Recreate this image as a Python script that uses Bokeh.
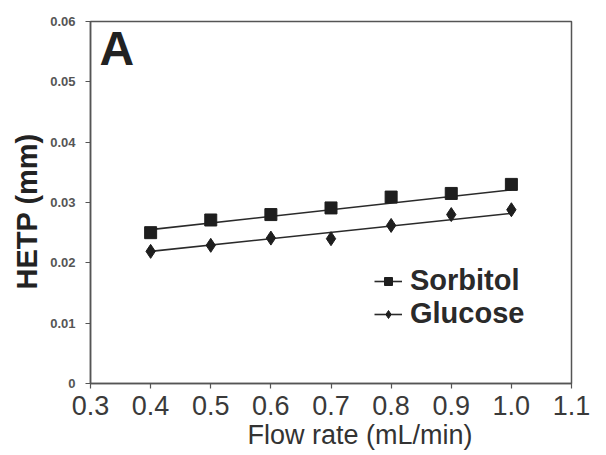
from bokeh.plotting import figure
from bokeh.models import Range1d, FixedTicker, Legend, LegendItem, Label, Title
from bokeh.embed import file_html
from bokeh.resources import INLINE

# ---- data ----
flow_rate = [0.4, 0.5, 0.6, 0.7, 0.8, 0.9, 1.0]
sorbitol = [0.0250, 0.0271, 0.0280, 0.0291, 0.0309, 0.0315, 0.0330]
glucose = [0.0219, 0.0229, 0.0241, 0.0240, 0.0262, 0.0280, 0.0288]
# trend lines as drawn in the reference (end points)
fit_x = [0.4, 1.0]
sorbitol_fit = [0.0255, 0.0321]
glucose_fit = [0.0219, 0.0282]

x_ticks = [0.3, 0.4, 0.5, 0.6, 0.7, 0.8, 0.9, 1.0, 1.1]
x_tick_labels = ["0.3", "0.4", "0.5", "0.6", "0.7", "0.8", "0.9", "1.0", "1.1"]
y_ticks = [0.0, 0.01, 0.02, 0.03, 0.04, 0.05, 0.06]
y_tick_labels = ["0", "0.01", "0.02", "0.03", "0.04", "0.05", "0.06"]
x_title = "Flow rate (mL/min)"
y_title = "HETP (mm)"
panel_tag = "A"

FONT = "Liberation Sans"
AX = "#555555"

p = figure(frame_width=481, frame_height=362, output_backend="svg",
           toolbar_location=None,
           x_range=Range1d(0.3, 1.1), y_range=Range1d(0.0, 0.06),
           min_border_left=90, min_border_right=25, min_border_top=21,
           min_border_bottom=60)
p.background_fill_color = "white"
p.border_fill_color = "white"
p.outline_line_color = AX
p.outline_line_width = 1.5
p.grid.visible = False

# axes
xa = p.xaxis[0]
xa.ticker = FixedTicker(ticks=x_ticks, minor_ticks=[])
xa.major_label_overrides = {t: l for t, l in zip(x_ticks, x_tick_labels)}
xa.major_label_text_font = FONT
xa.major_label_text_font_size = "27px"
xa.major_label_text_color = "#3a3a3a"
xa.major_label_standoff = 7
xa.major_tick_out = 5
xa.major_tick_in = 0
xa.minor_tick_out = 0
xa.minor_tick_in = 0
xa.axis_line_color = AX
xa.axis_line_width = 1.5
xa.major_tick_line_color = AX
xa.major_tick_line_width = 1.2

ya = p.yaxis[0]
ya.ticker = FixedTicker(ticks=y_ticks, minor_ticks=[])
ya.major_label_overrides = {t: l for t, l in zip(y_ticks, y_tick_labels)}
ya.major_label_text_font = FONT
ya.major_label_text_font_size = "13px"
ya.major_label_text_font_style = "bold"
ya.major_label_text_color = "#555555"
ya.major_label_standoff = 10
ya.major_tick_out = 5
ya.major_tick_in = 0
ya.minor_tick_out = 0
ya.minor_tick_in = 0
ya.axis_line_color = AX
ya.axis_line_width = 1.5
ya.major_tick_line_color = AX
ya.major_tick_line_width = 1.2

# axis titles (positioned off the frame centre, as in the reference)
p.add_layout(Title(text=x_title, align="left", offset=157, standoff=1,
                   text_font=FONT, text_font_size="27px",
                   text_font_style="normal", text_color="#333333"), "below")
p.add_layout(Title(text=y_title, align="left", offset=94, standoff=10,
                   text_font=FONT, text_font_size="29px",
                   text_font_style="bold", text_color="#222222"), "left")

# series
s_line = p.line(fit_x, sorbitol_fit, line_color="#2a2a2a", line_width=1.6)
s_pts = p.scatter(flow_rate, sorbitol, marker="square", size=12,
                  fill_color="#1e1e1e", line_color="#1e1e1e")
g_line = p.line(fit_x, glucose_fit, line_color="#2a2a2a", line_width=1.6)
g_pts = p.scatter(flow_rate, glucose, marker="diamond", size=14,
                  fill_color="#1e1e1e", line_color="#1e1e1e")

legend = Legend(items=[LegendItem(label="Sorbitol", renderers=[s_line, s_pts]),
                       LegendItem(label="Glucose", renderers=[g_line, g_pts])],
                location=(284, 53), orientation="vertical",
                label_text_font=FONT, label_text_font_size="29px",
                label_text_font_style="bold", label_text_color="#2a2a2a",
                glyph_width=28, glyph_height=20, label_standoff=8,
                spacing=-5, padding=0, margin=0,
                border_line_alpha=0, background_fill_alpha=0)
p.add_layout(legend, "center")

p.add_layout(Label(x=0.315, y=0.05552, x_units="data", y_units="data",
                   text=panel_tag, text_font=FONT, text_font_size="48px",
                   text_font_style="bold", text_color="#222222",
                   text_baseline="middle"))

open("out.html", "w").write(file_html(p, INLINE))
